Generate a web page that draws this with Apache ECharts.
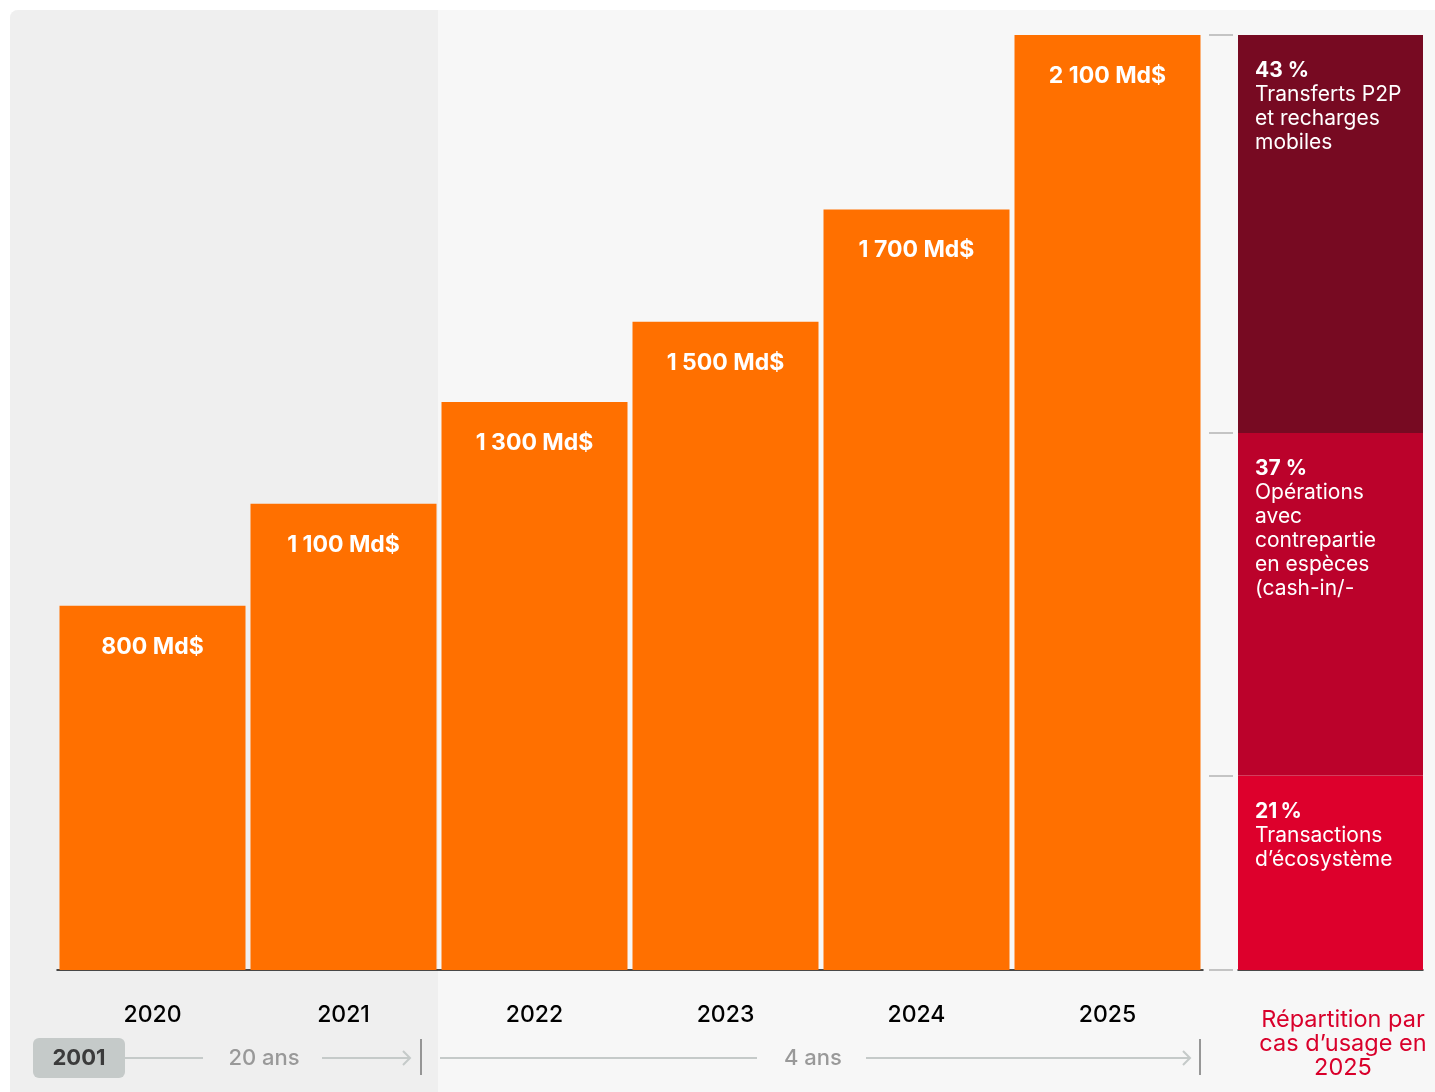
<!DOCTYPE html>
<html>
<head>
<meta charset="utf-8">
<script src="https://cdn.jsdelivr.net/npm/echarts@6/dist/echarts.min.js"></script>
<style>
  html, body { margin: 0; padding: 0; background: #ffffff; }
  #chart { width: 1435px; height: 1092px; }
</style>
</head>
<body>
<div id="chart"></div>
<script>
// volumes by year (bar heights, labels as printed)
const years = ['2020', '2021', '2022', '2023', '2024', '2025'];
const volumes = [818, 1047, 1276, 1456, 1708, 2100];
const volumeLabels = ['800 Md$', '1 100 Md$', '1 300 Md$', '1 500 Md$', '1 700 Md$', '2 100 Md$'];

// 2025 split by use case, bottom to top
const useCaseShares = [21, 37, 43];
const useCasePct = ['21\u202f%', '37 %', '43 %'];
const useCaseNames = [
    ['Transactions', 'd\u2019écosystème'],
    ['Opérations', 'avec', 'contrepartie', 'en espèces', '(cash-in/-'],
    ['Transferts P2P', 'et recharges', 'mobiles']
];
const useCaseColors = ['#dd002c', '#bb022b', '#770a22'];

const FONT = 'Inter, "Noto Sans", sans-serif';

let chart = echarts.init(document.getElementById('chart'));

let cumul = [0];
for (let i = 0; i < useCaseShares.length; i++) {
    cumul.push(cumul[i] + useCaseShares[i]);
}
const shareTotal = cumul[cumul.length - 1];

function useCaseSeries() {
    let arr = [];
    for (let i = 0; i < useCaseShares.length; i++) {
        let lines = ['{b|' + useCasePct[i] + '}'];
        for (let j = 0; j < useCaseNames[i].length; j++) {
            lines.push('{n|' + useCaseNames[i][j] + '}');
        }
        arr.push({
            type: 'bar',
            xAxisIndex: 1,
            yAxisIndex: 1,
            stack: 'usage',
            barWidth: '100%',
            data: [useCaseShares[i]],
            itemStyle: { color: useCaseColors[i] },
            silent: true,
            label: {
                show: true,
                position: 'insideTopLeft',
                distance: 17,
                offset: [0, 7],
                formatter: lines.join('\n'),
                rich: {
                    b: { fontFamily: FONT, fontSize: 21, fontWeight: 'bold', color: '#fff', lineHeight: 24 },
                    n: { fontFamily: FONT, fontSize: 21, color: '#fff', lineHeight: 24 }
                }
            }
        });
    }
    return arr;
}

const lineCol = '#c5cac9';
const midY = 1058;

chart.setOption({
    animation: false,
    backgroundColor: '#ffffff',
    graphic: [
        { type: 'rect', z: -10, shape: { x: 10, y: 10, width: 1425, height: 1082, r: [8, 0, 0, 0] }, style: { fill: '#f7f7f7' } },
        { type: 'rect', z: -9, shape: { x: 10, y: 10, width: 428, height: 1082, r: [8, 0, 0, 0] }, style: { fill: '#efefef' } },

        // timeline
        { type: 'rect', shape: { x: 33, y: 1038, width: 92, height: 40, r: 6 }, style: { fill: lineCol } },
        { type: 'text', x: 79, y: midY, style: { text: '2001', fontFamily: FONT, fontSize: 22, fontWeight: 'bold', fill: '#3b3b3b', align: 'center', verticalAlign: 'middle' } },
        { type: 'line', shape: { x1: 125, y1: midY, x2: 203, y2: midY }, style: { stroke: lineCol, lineWidth: 2 } },
        { type: 'text', x: 264, y: midY, style: { text: '20 ans', fontFamily: FONT, fontSize: 22, fontWeight: 500, fill: '#999', align: 'center', verticalAlign: 'middle' } },
        { type: 'line', shape: { x1: 322, y1: midY, x2: 410, y2: midY }, style: { stroke: lineCol, lineWidth: 2 } },
        { type: 'polyline', shape: { points: [[403, midY - 7], [410, midY], [403, midY + 7]] }, style: { stroke: lineCol, lineWidth: 2, fill: null } },
        { type: 'line', shape: { x1: 421, y1: 1039, x2: 421, y2: 1075 }, style: { stroke: '#777', lineWidth: 1.5 } },
        { type: 'line', shape: { x1: 440, y1: midY, x2: 757, y2: midY }, style: { stroke: lineCol, lineWidth: 2 } },
        { type: 'text', x: 813, y: midY, style: { text: '4 ans', fontFamily: FONT, fontSize: 22, fontWeight: 500, fill: '#999', align: 'center', verticalAlign: 'middle' } },
        { type: 'line', shape: { x1: 866, y1: midY, x2: 1190, y2: midY }, style: { stroke: lineCol, lineWidth: 2 } },
        { type: 'polyline', shape: { points: [[1183, midY - 7], [1190, midY], [1183, midY + 7]] }, style: { stroke: lineCol, lineWidth: 2, fill: null } },
        { type: 'line', shape: { x1: 1200, y1: 1039, x2: 1200, y2: 1075 }, style: { stroke: '#777', lineWidth: 1.5 } },

        // caption under the split bar
        { type: 'text', x: 1343, y: 1008, style: { text: 'Répartition par\ncas d\u2019usage en\n2025', fontFamily: FONT, fontSize: 23.5, lineHeight: 24, fill: '#d9002b', align: 'center', verticalAlign: 'top' } }
    ],
    grid: [
        { left: 57, top: 35, width: 1146, height: 935 },
        { left: 1238, top: 35, width: 185, height: 935 }
    ],
    xAxis: [
        {
            type: 'category',
            gridIndex: 0,
            data: years,
            axisLine: { lineStyle: { color: '#111', width: 1.5 } },
            axisTick: { show: false },
            axisLabel: { color: '#000', fontFamily: FONT, fontSize: 23, fontWeight: 500, lineHeight: 24, margin: 33 }
        },
        {
            type: 'category',
            gridIndex: 1,
            data: ['2025'],
            axisLine: { lineStyle: { color: '#111', width: 1.5 } },
            axisTick: { show: false },
            axisLabel: { show: false }
        }
    ],
    yAxis: [
        {
            type: 'value',
            gridIndex: 0,
            min: 0,
            max: volumes[volumes.length - 1],
            show: false
        },
        {
            type: 'value',
            gridIndex: 1,
            min: 0,
            max: shareTotal,
            position: 'left',
            offset: 5,
            axisLine: { show: false },
            axisLabel: { show: false },
            splitLine: { show: false },
            axisTick: {
                show: true,
                length: 24,
                customValues: cumul,
                lineStyle: { color: '#c4c4c4', width: 2 }
            }
        }
    ],
    series: [
        {
            type: 'bar',
            xAxisIndex: 0,
            yAxisIndex: 0,
            data: volumes,
            barWidth: 186,
            itemStyle: { color: '#ff7000' },
            silent: true,
            label: {
                show: true,
                position: 'insideTop',
                distance: 29,
                color: '#fff',
                fontFamily: FONT,
                fontSize: 23,
                fontWeight: 'bold',
                lineHeight: 24,
                formatter: function (p) { return volumeLabels[p.dataIndex]; }
            }
        }
    ].concat(useCaseSeries())
});
</script>
</body>
</html>
